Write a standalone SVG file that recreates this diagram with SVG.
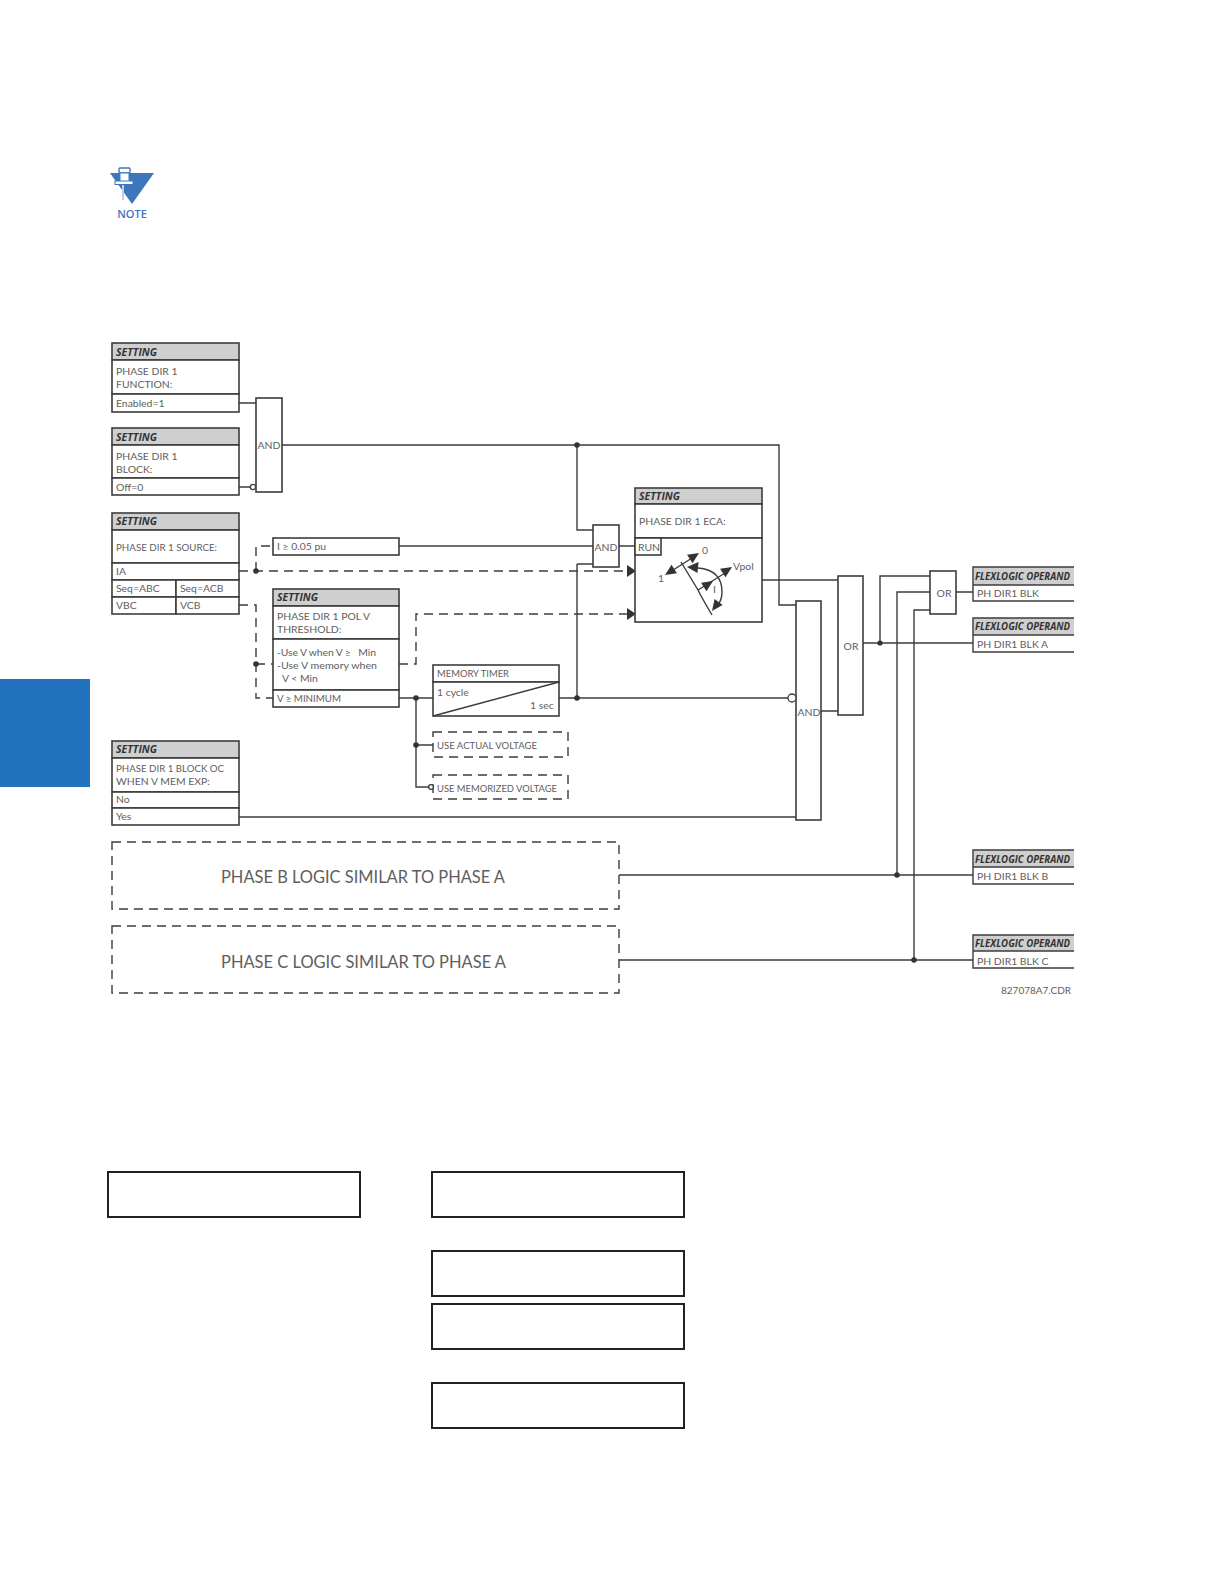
<svg xmlns="http://www.w3.org/2000/svg" width="1224" height="1584" viewBox="0 0 1224 1584">
<defs>
<style>
text{font-family:"Lato","Open Sans","Liberation Sans",sans-serif;font-size:10.4px;fill:#5e5e5e}
.h{font-family:"Open Sans","Liberation Sans",sans-serif;font-weight:700;font-style:italic;fill:#333;font-size:10.5px}
.f{font-size:10.8px}
.b{fill:#fff;stroke:#3c3c3c;stroke-width:1.6}
.hd{fill:#cfcfcf;stroke:#3c3c3c;stroke-width:1.6}
.l{fill:none;stroke:#3c3c3c;stroke-width:1.4}
.d{fill:none;stroke:#3c3c3c;stroke-width:1.4;stroke-dasharray:9 6}
.dot{fill:#333;stroke:none}
.bub{fill:#fff;stroke:#3c3c3c;stroke-width:1.3}
.ar{fill:#333;stroke:none}
.c{text-anchor:middle}
.big{font-size:18px}
</style>
</defs>
<rect id="tab" x="0" y="679" width="90" height="108" fill="#2272bd"/>
<g id="note">
<polygon points="110,173 154,173 132,204" fill="#3d76bb"/>
<rect x="122" y="184" width="2" height="16" fill="#bcd0e6"/>
<rect x="119" y="168" width="11" height="5" rx="1" fill="#fff" stroke="#3d76bb" stroke-width="1.4"/>
<rect x="120" y="173" width="9" height="9" fill="#fff" stroke="#3d76bb" stroke-width="1"/>
<rect x="115" y="181" width="18" height="3.5" fill="#fff" stroke="#3d76bb" stroke-width="1"/>
<text x="132" y="218" class="c" style="fill:#3d76bb;font-size:11px;font-weight:600;font-family:'Open Sans',sans-serif">NOTE</text>
</g>
<g id="connectors">
<path class="l" d="M239 403H256M239 487H252M282 445H779V605H796M577 445V530H593M399 546H593M619 546H635M577 564H593M577 564V698M559 698H788M239 817H796M762 580H838M821 711H838M863 643H973M880 643V576H930M897 875V592H930M914 960V610H930M956 592H973M619 875H973M619 960H973M399 698H433M416 698V787H429M416 745H433"/>
<path class="d" d="M239 571H630M256 571V546H273M239 605H256V698H273M256 664H273M399 664H416V614H630"/>
<polygon class="ar" points="636,571 627,565 627,577"/>
<polygon class="ar" points="636,614 627,608 627,620"/>
<circle class="dot" cx="577" cy="445" r="2.8"/>
<circle class="dot" cx="256" cy="571" r="2.8"/>
<circle class="dot" cx="256" cy="664" r="2.8"/>
<circle class="dot" cx="416" cy="698" r="2.8"/>
<circle class="dot" cx="416" cy="745" r="2.8"/>
<circle class="dot" cx="577" cy="698" r="2.8"/>
<circle class="dot" cx="880" cy="643" r="2.6"/>
<circle class="dot" cx="897" cy="875" r="2.8"/>
<circle class="dot" cx="914" cy="960" r="2.8"/>
</g>
<g id="setting1">
<rect class="hd" x="112" y="343" width="127" height="17"/><rect class="b" x="112" y="360" width="127" height="34"/><rect class="b" x="112" y="394" width="127" height="18"/>
<text class="h" x="116" y="356">SETTING</text><text x="116" y="375">PHASE DIR 1</text><text x="116" y="388">FUNCTION:</text><text x="116" y="407">Enabled=1</text>
</g>
<g id="setting2">
<rect class="hd" x="112" y="428" width="127" height="17"/><rect class="b" x="112" y="445" width="127" height="33"/><rect class="b" x="112" y="478" width="127" height="17"/>
<text class="h" x="116" y="441">SETTING</text><text x="116" y="460">PHASE DIR 1</text><text x="116" y="473">BLOCK:</text><text x="116" y="491">Off=0</text>
</g>
<g id="and1"><rect class="b" x="256" y="398" width="26" height="94"/><text class="c" x="269" y="449">AND</text><circle class="bub" cx="253" cy="487" r="2.6"/></g>
<g id="setting3">
<rect class="hd" x="112" y="513" width="127" height="17"/><rect class="b" x="112" y="530" width="127" height="33"/><rect class="b" x="112" y="563" width="127" height="17"/><rect class="b" x="112" y="580" width="64" height="17"/><rect class="b" x="176" y="580" width="63" height="17"/><rect class="b" x="112" y="597" width="64" height="17"/><rect class="b" x="176" y="597" width="63" height="17"/>
<text class="h" x="116" y="525">SETTING</text><text x="116" y="551" textLength="101" lengthAdjust="spacingAndGlyphs">PHASE DIR 1 SOURCE:</text><text x="116" y="575">IA</text><text x="116" y="592">Seq=ABC</text><text x="180" y="592">Seq=ACB</text><text x="116" y="609">VBC</text><text x="180" y="609">VCB</text>
</g>
<g id="threshold"><rect class="b" x="273" y="538" width="126" height="17"/><text x="277" y="550">I ≥ 0.05 pu</text></g>
<g id="setting4">
<rect class="hd" x="273" y="589" width="126" height="17"/><rect class="b" x="273" y="606" width="126" height="33"/><rect class="b" x="273" y="639" width="126" height="51"/><rect class="b" x="273" y="690" width="126" height="17"/>
<text class="h" x="277" y="601">SETTING</text><text x="277" y="620">PHASE DIR 1 POL V</text><text x="277" y="633">THRESHOLD:</text><text x="277" y="656" textLength="99" xml:space="preserve">-Use V when V ≥   Min</text><text x="277" y="669" textLength="100" lengthAdjust="spacingAndGlyphs">-Use V memory when</text><text x="282" y="682">V &lt; Min</text><text x="277" y="702" textLength="64" lengthAdjust="spacingAndGlyphs">V ≥ MINIMUM</text>
</g>
<g id="memory-timer">
<rect class="b" x="433" y="665" width="126" height="17"/><rect class="b" x="433" y="682" width="126" height="34"/><path class="l" d="M433 716L559 682"/>
<text x="437" y="677" textLength="72" lengthAdjust="spacingAndGlyphs">MEMORY TIMER</text><text x="437" y="696">1 cycle</text><text x="530" y="709">1 sec</text>
</g>
<g id="use-actual"><rect class="d" x="433" y="732" width="135" height="25"/><text x="437" y="749" textLength="100" lengthAdjust="spacingAndGlyphs">USE ACTUAL VOLTAGE</text></g>
<g id="use-memorized"><rect class="d" x="433" y="775" width="135" height="24"/><text x="437" y="792" textLength="120" lengthAdjust="spacingAndGlyphs">USE MEMORIZED VOLTAGE</text><circle class="bub" cx="431" cy="787" r="2.4"/></g>
<g id="setting5">
<rect class="hd" x="112" y="741" width="127" height="17"/><rect class="b" x="112" y="758" width="127" height="34"/><rect class="b" x="112" y="792" width="127" height="16"/><rect class="b" x="112" y="808" width="127" height="17"/>
<text class="h" x="116" y="753">SETTING</text><text x="116" y="772" textLength="108" lengthAdjust="spacingAndGlyphs">PHASE DIR 1 BLOCK OC</text><text x="116" y="785">WHEN V MEM EXP:</text><text x="116" y="803">No</text><text x="116" y="820">Yes</text>
</g>
<g id="and2"><rect class="b" x="593" y="525" width="26" height="42"/><text class="c" x="606" y="551">AND</text></g>
<g id="eca">
<rect class="hd" x="635" y="488" width="127" height="16"/><rect class="b" x="635" y="504" width="127" height="34"/><rect class="b" x="635" y="538" width="127" height="84"/><rect class="b" x="635" y="538" width="26" height="17"/>
<text class="h" x="639" y="500">SETTING</text><text x="639" y="525">PHASE DIR 1 ECA:</text><text x="638" y="551">RUN</text><text x="702" y="554">0</text><text x="658" y="582">1</text><text x="733" y="570">Vpol</text><text x="713" y="593">I</text>
<path class="l" d="M670 572L692 558M681 562L698 590Q703 600 712 615M698 590L725 573M698 568Q722 570 722 592Q722 602 716 606"/>
<polygon class="ar" points="665,575 676.9,573.2 671.5,564.8"/>
<polygon class="ar" points="699,553 692.5,563.2 687.1,554.8"/>
<polygon class="ar" points="732,567 725.5,577.2 720.1,568.8"/>
<polygon class="ar" points="713,581 706.5,591.2 701.1,582.8"/>
<polygon class="ar" points="687,567 697.5,573 698.5,562"/>
<polygon class="ar" points="712,611 722.6,605 714.6,599"/>
</g>
<g id="and3"><rect class="b" x="796" y="601" width="25" height="219"/><text class="c" x="809" y="716">AND</text><circle class="bub" cx="792" cy="698" r="4"/></g>
<g id="or1"><rect class="b" x="838" y="576" width="25" height="139"/><text class="c" x="851" y="650">OR</text></g>
<g id="or2"><rect class="b" x="930" y="571" width="26" height="43"/><text class="c" x="944" y="597">OR</text></g>
<g id="operand-blk">
<rect x="973" y="567" width="101" height="18" fill="#cfcfcf"/><path class="l" d="M1074 567H973V601H1074M973 585H1074"/><text class="h f" x="975" y="580" textLength="95" lengthAdjust="spacingAndGlyphs">FLEXLOGIC OPERAND</text><text x="977" y="597">PH DIR1 BLK</text>
</g>
<g id="operand-a">
<rect x="973" y="618" width="101" height="17" fill="#cfcfcf"/><path class="l" d="M1074 618H973V652H1074M973 635H1074"/><text class="h f" x="975" y="630" textLength="95" lengthAdjust="spacingAndGlyphs">FLEXLOGIC OPERAND</text><text x="977" y="648">PH DIR1 BLK A</text>
</g>
<g id="operand-b">
<rect x="973" y="850" width="101" height="17" fill="#cfcfcf"/><path class="l" d="M1074 850H973V884H1074M973 867H1074"/><text class="h f" x="975" y="863" textLength="95" lengthAdjust="spacingAndGlyphs">FLEXLOGIC OPERAND</text><text x="977" y="880">PH DIR1 BLK B</text>
</g>
<g id="operand-c">
<rect x="973" y="935" width="101" height="16" fill="#cfcfcf"/><path class="l" d="M1074 935H973V968H1074M973 951H1074"/><text class="h f" x="975" y="947" textLength="95" lengthAdjust="spacingAndGlyphs">FLEXLOGIC OPERAND</text><text x="977" y="965">PH DIR1 BLK C</text>
</g>
<g id="phase-b"><rect class="d" x="112" y="842" width="507" height="67"/><text class="big" x="221" y="883" textLength="284" lengthAdjust="spacingAndGlyphs">PHASE B LOGIC SIMILAR TO PHASE A</text></g>
<g id="phase-c"><rect class="d" x="112" y="926" width="507" height="67"/><text class="big" x="221" y="968" textLength="285" lengthAdjust="spacingAndGlyphs">PHASE C LOGIC SIMILAR TO PHASE A</text></g>
<text id="ref" x="1001" y="994" textLength="70" lengthAdjust="spacingAndGlyphs">827078A7.CDR</text>
<g id="boxes" fill="#fff" stroke="#222" stroke-width="2">
<rect x="108" y="1172" width="252" height="45"/><rect x="432" y="1172" width="252" height="45"/><rect x="432" y="1251" width="252" height="45"/><rect x="432" y="1304" width="252" height="45"/><rect x="432" y="1383" width="252" height="45"/>
</g>
</svg>
